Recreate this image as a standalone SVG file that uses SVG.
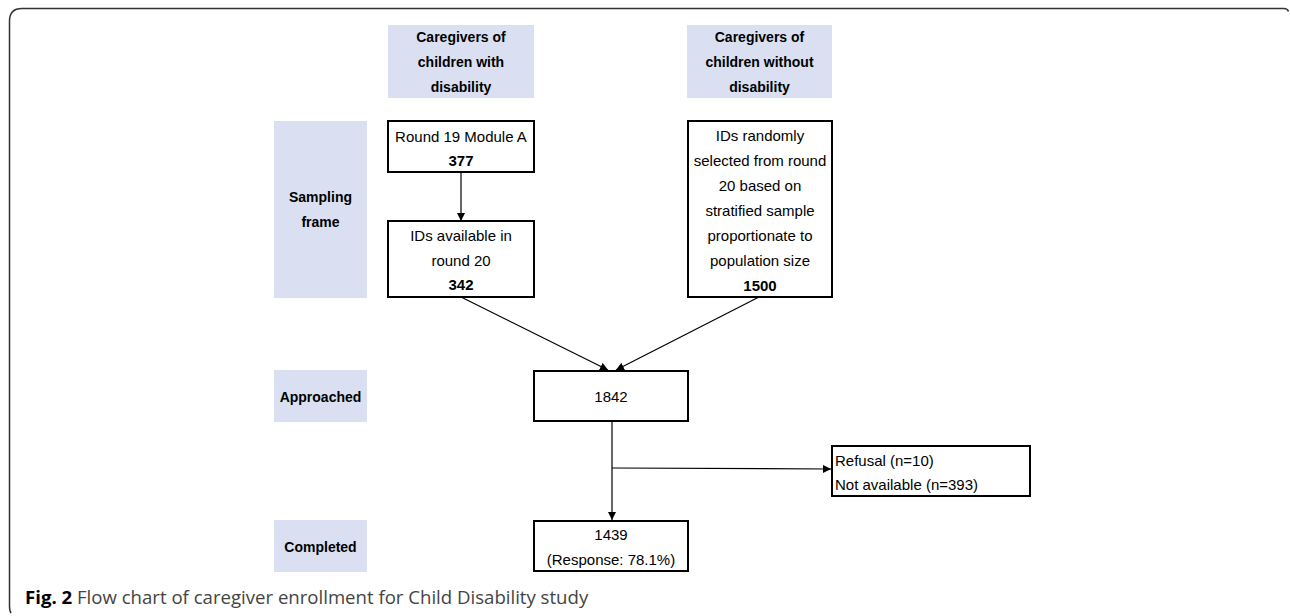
<svg xmlns="http://www.w3.org/2000/svg" width="1290" height="616" viewBox="0 0 1290 616">
  <defs>
    <marker id="arr" viewBox="0 0 10 10" refX="10" refY="5" markerWidth="8" markerHeight="8" markerUnits="userSpaceOnUse" orient="auto">
      <path d="M0,0 L10,5 L0,10 Z" fill="#000"/>
    </marker>
    <style>
      .hdr { fill: #dae0f1; }
      .box { fill: #fff; stroke: #000; stroke-width: 2; }
      .hb { font-family: "Liberation Sans", Arial, sans-serif; font-size: 14px; font-weight: bold; fill: #000; text-anchor: middle; }
      .t { font-family: "Liberation Sans", Arial, sans-serif; font-size: 15px; fill: #000; text-anchor: middle; }
      .tb { font-weight: bold; }
      .tl { text-anchor: start; }
      .conn { stroke: #000; stroke-width: 1.2; fill: none; marker-end: url(#arr); }
      .frame { stroke: #333; stroke-width: 1.5; fill: none; }
      .cap { font-family: "Open Sans", "Liberation Sans", sans-serif; font-size: 18.6px; fill: #444; }
    </style>
  </defs>
  <rect width="1290" height="616" fill="#fff"/>
  <path class="frame" d="M 11 613 Q 9.5 611 9.5 606 L 9.5 21 Q 9.5 8.5 22 8.5 L 1284 8.5 Q 1287.5 8.5 1288.5 11.5"/>

  <g id="hdr-with">
    <rect class="hdr" x="388" y="25" width="146" height="73"/>
    <text class="hb" x="461" y="42">Caregivers of</text>
    <text class="hb" x="461" y="67">children with</text>
    <text class="hb" x="461" y="92">disability</text>
  </g>
  <g id="hdr-without">
    <rect class="hdr" x="687" y="25" width="145" height="73"/>
    <text class="hb" x="759.5" y="42">Caregivers of</text>
    <text class="hb" x="759.5" y="67">children without</text>
    <text class="hb" x="759.5" y="92">disability</text>
  </g>
  <g id="lbl-sampling">
    <rect class="hdr" x="274" y="121" width="93" height="177"/>
    <text class="hb" x="320.5" y="202">Sampling</text>
    <text class="hb" x="320.5" y="227">frame</text>
  </g>
  <g id="lbl-approached">
    <rect class="hdr" x="274" y="370" width="93" height="52"/>
    <text class="hb" x="320.5" y="402">Approached</text>
  </g>
  <g id="lbl-completed">
    <rect class="hdr" x="274" y="520" width="93" height="52"/>
    <text class="hb" x="320.5" y="552">Completed</text>
  </g>

  <g id="connectors">
    <line class="conn" x1="461" y1="172" x2="461" y2="221"/>
    <line class="conn" x1="461" y1="297" x2="608" y2="370"/>
    <line class="conn" x1="759" y1="297" x2="616" y2="370"/>
    <line class="conn" x1="612" y1="422" x2="612" y2="520"/>
    <polyline class="conn" points="612,468 831,469"/>
  </g>

  <g id="n-round19">
    <rect class="box" x="388" y="121" width="146" height="51"/>
    <text class="t" x="461" y="142">Round 19 Module A</text>
    <text class="t tb" x="461" y="166">377</text>
  </g>
  <g id="n-ids20">
    <rect class="box" x="388" y="221" width="146" height="76"/>
    <text class="t" x="461" y="241">IDs available in</text>
    <text class="t" x="461" y="266">round 20</text>
    <text class="t tb" x="461" y="290">342</text>
  </g>
  <g id="n-random">
    <rect class="box" x="688" y="121" width="144" height="176"/>
    <text class="t" x="760" y="141">IDs randomly</text>
    <text class="t" x="760" y="166">selected from round</text>
    <text class="t" x="760" y="191">20 based on</text>
    <text class="t" x="760" y="216">stratified sample</text>
    <text class="t" x="760" y="241">proportionate to</text>
    <text class="t" x="760" y="266">population size</text>
    <text class="t tb" x="760" y="291">1500</text>
  </g>
  <g id="n-approached">
    <rect class="box" x="534" y="371" width="154" height="50"/>
    <text class="t" x="611" y="402">1842</text>
  </g>
  <g id="n-excluded">
    <rect class="box" x="832" y="446" width="198" height="50"/>
    <text class="t tl" x="835" y="466">Refusal (n=10)</text>
    <text class="t tl" x="835" y="490">Not available (n=393)</text>
  </g>
  <g id="n-completed">
    <rect class="box" x="534" y="521" width="154" height="50"/>
    <text class="t" x="611" y="540">1439</text>
    <text class="t" x="611" y="565">(Response: 78.1%)</text>
  </g>

  <text class="cap" x="25" y="604"><tspan font-weight="bold" fill="#000">Fig. 2</tspan> Flow chart of caregiver enrollment for Child Disability study</text>
</svg>
